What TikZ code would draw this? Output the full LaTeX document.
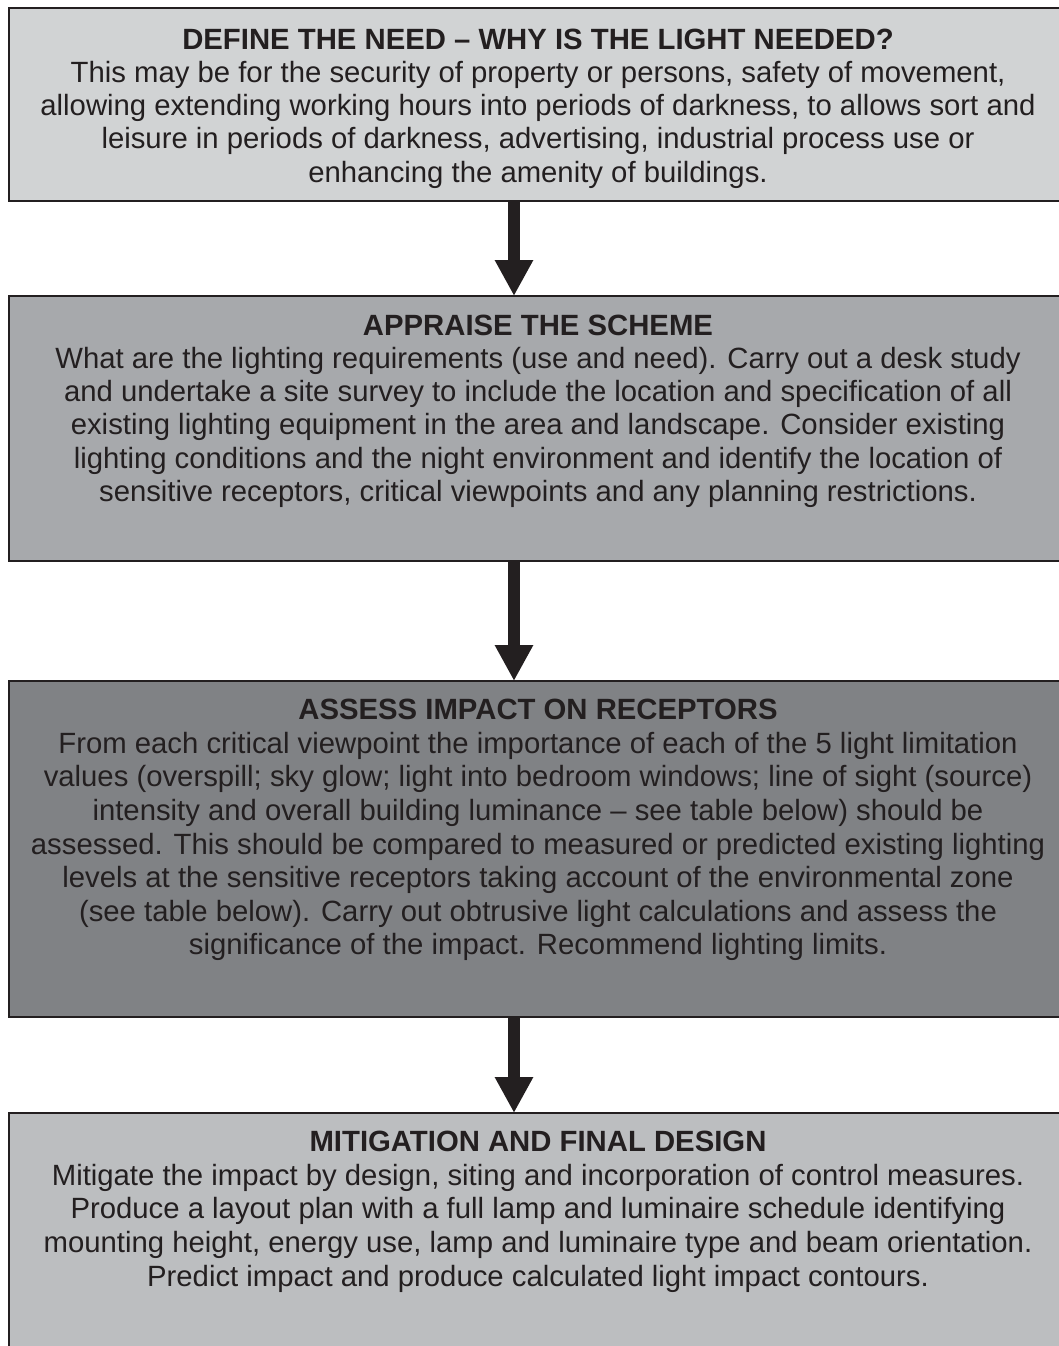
\documentclass[tikz,border=0pt]{standalone}
\usepackage{fontspec}
\setmainfont{Liberation Sans}
\usetikzlibrary{arrows.meta}
\definecolor{edge}{HTML}{231F20}
\definecolor{fillA}{HTML}{D1D3D4}
\definecolor{fillB}{HTML}{A7A9AC}
\definecolor{fillC}{HTML}{808285}
\definecolor{fillD}{HTML}{BCBEC0}
\tikzset{
  stagebox/.style={draw=edge, line width=2.5pt, rectangle, inner sep=0pt},
  stagetext/.style={anchor=north, align=center, inner sep=0pt, text=edge,
    font=\fontsize{29.3}{33.6}\selectfont},
  tighttext/.style={stagetext, font=\fontsize{29.3}{33.1}\selectfont},
  flowarrow/.style={draw=edge, line width=12pt, -{Triangle[width=36pt,length=36pt]}},
}
\newcommand{\ttl}[1]{{\bfseries #1}}
\begin{document}
\begin{tikzpicture}[x=1pt,y=-1pt]
\useasboundingbox (0,0) rectangle (1059,1346);
\begin{scope}
\clip (0,0) rectangle (1059,1346);
\path[stagebox, fill=fillA] (9,8) rectangle (1070,201);
\path[stagebox, fill=fillB] (9,296) rectangle (1070,561);
\path[stagebox, fill=fillC] (9,681) rectangle (1070,1017);
\path[stagebox, fill=fillD] (9,1113) rectangle (1070,1370);
\end{scope}
\coordinate (b1s) at (514,201);
\coordinate (b2n) at (514,296);
\coordinate (b2s) at (514,561);
\coordinate (b3n) at (514,681);
\coordinate (b3s) at (514,1017);
\coordinate (b4n) at (514,1113);
\draw[flowarrow] (b1s) -- (b2n);
\draw[flowarrow] (b2s) -- (b3n);
\draw[flowarrow] (b3s) -- (b4n);

\node[tighttext] (t1) at (538,29) {\ttl{DEFINE THE NEED – WHY IS THE LIGHT NEEDED?}\\
This may be for the security of property or persons, safety of movement,\\
allowing extending working hours into periods of darkness, to allows sort and\\
leisure in periods of darkness, advertising, industrial process use or\\
enhancing the amenity of buildings.};

\node[tighttext] (t2) at (538,315) {\ttl{APPRAISE THE SCHEME}\\
What are the lighting requirements (use and need). Carry out a desk study\\
and undertake a site survey to include the location and specification of all\\
existing lighting equipment in the area and landscape. Consider existing\\
lighting conditions and the night environment and identify the location of\\
sensitive receptors, critical viewpoints and any planning restrictions.};

\node[stagetext] (t3) at (538,699) {\ttl{ASSESS IMPACT ON RECEPTORS}\\
From each critical viewpoint the importance of each of the 5 light limitation\\
values (overspill; sky glow; light into bedroom windows; line of sight (source)\\
intensity and overall building luminance – see table below) should be\\
assessed. This should be compared to measured or predicted existing lighting\\
levels at the sensitive receptors taking account of the environmental zone\\
(see table below). Carry out obtrusive light calculations and assess the\\
significance of the impact. Recommend lighting limits.};

\node[stagetext] (t4) at (538,1131) {\ttl{MITIGATION AND FINAL DESIGN}\\
Mitigate the impact by design, siting and incorporation of control measures.\\
Produce a layout plan with a full lamp and luminaire schedule identifying\\
mounting height, energy use, lamp and luminaire type and beam orientation.\\
Predict impact and produce calculated light impact contours.};
\end{tikzpicture}
\end{document}
